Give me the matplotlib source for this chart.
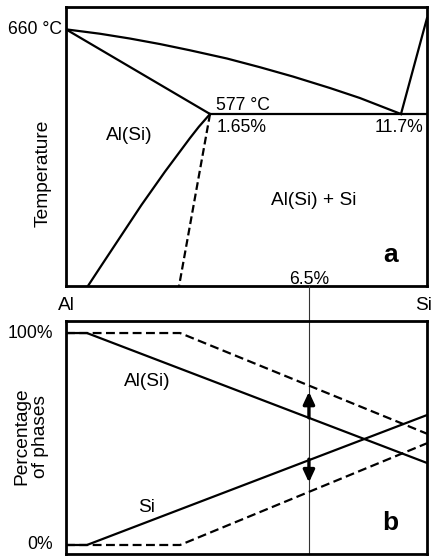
import matplotlib.pyplot as plt

plt.rcParams['font.family'] = ['Liberation Sans', 'DejaVu Sans']

# -----------------------------
# Data (schematic Al-Si diagram)
# x: position between Al (0) and Si (100), T in deg C (schematic)
# -----------------------------
liq_x = [0, 9.4, 17.7, 26.0, 34.3, 44.6, 53.7, 62.9, 73.1, 81.4, 92.8]
liq_t = [660, 655.7, 651.0, 645.6, 639.5, 631.4, 622.9, 613.7, 602.5,
         592.7, 577]

liq_si_x = [92.8, 100]
liq_si_t = [577, 671]

solidus_x = [0, 39.9]
solidus_t = [660, 577]

eut_x = [39.9, 100]
eut_t = [577, 577]

solvus_x = [39.9, 36.8, 34.3, 27.4, 20.9, 14.8, 9.9, 6.0]
solvus_t = [577, 564.5, 553.2, 520.4, 487.8, 455.2, 429.0, 408]

dash_x = [39.9, 31.3]
dash_t = [577, 408]

alloy_x = 67.3  # 6.5 %

# phase fractions (%)
alsi_x = [0, 5.8, 100]
alsi_p = [100, 100, 38.7]
si_x = [0, 5.8, 100]
si_p = [0, 0, 61.3]

alsi_eq_x = [0, 31.6, 100]
alsi_eq_p = [100, 100, 52.5]
si_eq_x = [0, 31.6, 100]
si_eq_p = [0, 0, 48.0]

# -----------------------------
# Plot
# -----------------------------
fig = plt.figure(figsize=(4.33, 5.56), dpi=100)
ax_a = fig.add_axes([0.1524, 0.4856, 0.8337, 0.5018])
ax_b = fig.add_axes([0.1524, 0.0036, 0.8337, 0.4190])

lw = 1.6
for ax in (ax_a, ax_b):
    ax.set_xticks([])
    ax.set_yticks([])
    for s in ax.spines.values():
        s.set_linewidth(2.0)
    ax.set_xlim(0, 100)

fn = 12.7   # numbers
fw = 13.8   # words

# --- a: phase diagram
ax_a.set_ylim(408.4, 681.9)
ax_a.plot(liq_x, liq_t, color='black', lw=lw)
ax_a.plot(liq_si_x, liq_si_t, color='black', lw=lw)
ax_a.plot(solidus_x, solidus_t, color='black', lw=lw)
ax_a.plot(eut_x, eut_t, color='black', lw=lw)
ax_a.plot(solvus_x, solvus_t, color='black', lw=lw)
ax_a.plot(dash_x, dash_t, color='black', lw=lw, dashes=(3.5, 1.7))

ax_a.text(-1.1, 660, '660 °C', ha='right', va='center', fontsize=fn)
ax_a.text(41.6, 581, '577 °C', ha='left', va='baseline', fontsize=fn)
ax_a.text(41.6, 559.4, '1.65%', ha='left', va='baseline', fontsize=fn)
ax_a.text(98.9, 559.4, '11.7%', ha='right', va='baseline', fontsize=fn)
ax_a.text(17.5, 556.4, 'Al(Si)', ha='center', va='center', fontsize=fw)
ax_a.text(68.6, 492.2, 'Al(Si) + Si', ha='center', va='center', fontsize=fw)
ax_a.text(89.8, 432, 'a', ha='center', va='baseline', fontsize=19,
          fontweight='bold')
ax_a.text(alloy_x, 410, '6.5%', ha='center', va='baseline', fontsize=fn)
ax_a.text(0, 385, 'Al', ha='center', va='baseline', fontsize=fw,
          clip_on=False)
ax_a.text(101.4, 385, 'Si', ha='right', va='baseline', fontsize=fw,
          clip_on=False)

fig.text(43.5 / 433, 1 - 173 / 556, 'Temperature', rotation=90,
         ha='center', va='center', fontsize=fw)

# --- b: phase percentages
ax_b.set_ylim(-4.25, 105.66)
ax_b.plot(alsi_x, alsi_p, color='black', lw=lw)
ax_b.plot(si_x, si_p, color='black', lw=lw)
ax_b.plot(alsi_eq_x, alsi_eq_p, color='black', lw=lw, dashes=(4, 2))
ax_b.plot(si_eq_x, si_eq_p, color='black', lw=lw, dashes=(4, 2))

# alloy line through both panels
ax_b.plot([alloy_x, alloy_x], [-4.25, 122.2], color='#333333', lw=0.8,
          clip_on=False, zorder=1)

arrow = dict(arrowstyle='-|>,head_width=0.28,head_length=0.6',
             lw=2.4, color='black', mutation_scale=12, shrinkA=0, shrinkB=0)
ax_b.annotate('', xy=(alloy_x, 72.3), xytext=(alloy_x, 60.0),
              arrowprops=arrow)
ax_b.annotate('', xy=(alloy_x, 29.5), xytext=(alloy_x, 40.5),
              arrowprops=arrow)

ax_b.text(-3.6, 100, '100%', ha='right', va='center', fontsize=fn,
          clip_on=False)
ax_b.text(-3.6, 0, '0%', ha='right', va='center', fontsize=fn,
          clip_on=False)
ax_b.text(22.6, 77.1, 'Al(Si)', ha='center', va='center', fontsize=fw)
ax_b.text(22.4, 17.7, 'Si', ha='center', va='center', fontsize=fw)
ax_b.text(89.9, 7.1, 'b', ha='center', va='baseline', fontsize=19,
          fontweight='bold')

fig.text(31.5 / 433, 1 - 436.5 / 556, 'Percentage\nof phases', rotation=90,
         ha='center', va='center', fontsize=fw, linespacing=1.1)

fig.savefig('out.png', dpi=100)
